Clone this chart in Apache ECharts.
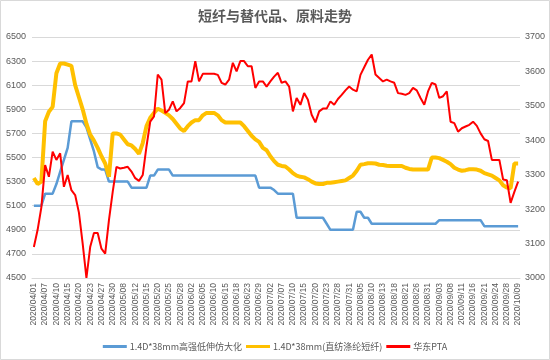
<!DOCTYPE html>
<html><head><meta charset="utf-8">
<script src="https://cdn.jsdelivr.net/npm/echarts@6/dist/echarts.min.js"></script>
<style>html,body{margin:0;padding:0;background:#fff}#c{width:550px;height:360px}</style>
</head><body><div id="c"></div><script>
var dates = [
'2020/04/01','2020/04/02','2020/04/03','2020/04/07','2020/04/08','2020/04/09','2020/04/10','2020/04/13','2020/04/14','2020/04/15',
'2020/04/16','2020/04/17','2020/04/20','2020/04/21','2020/04/22','2020/04/23','2020/04/24','2020/04/26','2020/04/27','2020/04/28',
'2020/04/29','2020/04/30','2020/05/06','2020/05/07','2020/05/08','2020/05/09','2020/05/11','2020/05/12','2020/05/13','2020/05/14',
'2020/05/15','2020/05/18','2020/05/19','2020/05/20','2020/05/21','2020/05/22','2020/05/25','2020/05/26','2020/05/27','2020/05/28',
'2020/05/29','2020/06/01','2020/06/02','2020/06/03','2020/06/04','2020/06/05','2020/06/08','2020/06/09','2020/06/10','2020/06/11',
'2020/06/12','2020/06/15','2020/06/16','2020/06/17','2020/06/18','2020/06/19','2020/06/22','2020/06/23','2020/06/24','2020/06/28',
'2020/06/29','2020/06/30','2020/07/01','2020/07/02','2020/07/03','2020/07/06','2020/07/07','2020/07/08','2020/07/09','2020/07/10',
'2020/07/13','2020/07/14','2020/07/15','2020/07/16','2020/07/17','2020/07/20','2020/07/21','2020/07/22','2020/07/23','2020/07/24',
'2020/07/27','2020/07/28','2020/07/29','2020/07/30','2020/07/31','2020/08/03','2020/08/04','2020/08/05','2020/08/06','2020/08/07',
'2020/08/10','2020/08/11','2020/08/12','2020/08/13','2020/08/14','2020/08/17','2020/08/18','2020/08/19','2020/08/20','2020/08/21',
'2020/08/24','2020/08/25','2020/08/26','2020/08/27','2020/08/28','2020/08/31','2020/09/01','2020/09/02','2020/09/03','2020/09/04',
'2020/09/07','2020/09/08','2020/09/09','2020/09/10','2020/09/11','2020/09/14','2020/09/15','2020/09/16','2020/09/17','2020/09/18',
'2020/09/21','2020/09/22','2020/09/23','2020/09/24','2020/09/25','2020/09/27','2020/09/28','2020/09/29','2020/09/30','2020/10/09'
];
var seriesNames = ['1.4D*38mm高强低伸仿大化', '1.4D*38mm(直纺涤纶短纤)', '华东PTA'];
var blueVals = [
5100,5100,5100,5200,5200,5200,5280,5380,5480,5580,
5800,5800,5800,5800,5750,5650,5550,5420,5400,5400,
5300,5300,5300,5300,5300,5300,5250,5250,5250,5250,
5250,5350,5350,5400,5400,5400,5400,5350,5350,5350,
5350,5350,5350,5350,5350,5350,5350,5350,5350,5350,
5350,5350,5350,5350,5350,5350,5350,5350,5350,5350,
5250,5250,5250,5250,5230,5200,5200,5200,5200,5200,
5000,5000,5000,5000,5000,5000,5000,5000,4950,4900,
4900,4900,4900,4900,4900,4900,5050,5050,5000,5000,
4950,4950,4950,4950,4950,4950,4950,4950,4950,4950,
4950,4950,4950,4950,4950,4950,4950,4950,4980,4980,
4980,4980,4980,4980,4980,4980,4980,4980,4980,4980,
4930,4930,4930,4930,4930,4930,4930,4930,4930,4930
];
var yellowVals = [
5330,5280,5300,5800,5880,5920,6200,6280,6280,6270,
6260,6100,6000,5900,5780,5690,5640,5580,5510,5450,
5340,5700,5700,5690,5650,5610,5600,5570,5530,5620,
5760,5830,5870,5905,5890,5870,5850,5820,5780,5740,
5720,5760,5790,5810,5810,5850,5870,5870,5870,5850,
5810,5790,5790,5790,5790,5790,5760,5720,5680,5650,
5630,5580,5560,5510,5470,5440,5430,5425,5400,5370,
5350,5340,5335,5320,5300,5285,5280,5280,5290,5290,
5295,5300,5305,5310,5330,5350,5390,5440,5445,5452,
5452,5450,5440,5438,5432,5430,5430,5430,5430,5415,
5405,5400,5400,5400,5400,5400,5500,5500,5495,5480,
5465,5445,5415,5400,5390,5395,5402,5402,5400,5390,
5370,5360,5350,5330,5310,5270,5250,5245,5450,5450
];
var redVals = [
3090,3140,3206,3328,3294,3367,3343,3362,3265,3299,
3255,3241,3190,3100,3000,3090,3131,3131,3085,3071,
3168,3250,3323,3318,3320,3323,3309,3290,3282,3299,
3382,3454,3469,3591,3576,3479,3489,3513,3484,3494,
3508,3571,3571,3630,3571,3593,3593,3593,3593,3590,
3567,3562,3576,3625,3600,3630,3630,3615,3615,3552,
3571,3571,3556,3571,3585,3596,3567,3571,3556,3484,
3523,3503,3537,3518,3474,3452,3484,3492,3492,3513,
3503,3520,3532,3545,3556,3547,3542,3590,3612,3634,
3649,3591,3581,3571,3576,3571,3567,3537,3535,3532,
3537,3552,3545,3523,3503,3542,3567,3562,3523,3528,
3542,3454,3450,3425,3435,3440,3445,3454,3442,3420,
3403,3398,3343,3343,3343,3286,3284,3218,3250,3280
];
var leftAxis = {min: 4500, max: 6500, step: 200};
var rightAxis = {min: 3000, max: 3700, step: 100};

var font = 'Liberation Sans, Arial, "Noto Sans CJK SC", sans-serif';
var cjk = '"Noto Sans CJK SC", "Liberation Sans", sans-serif';
var plain = function (v) { return String(v); };
var chart = echarts.init(document.getElementById('c'), null, {renderer: 'canvas'});
chart.setOption({
  animation: false,
  backgroundColor: '#fff',
  title: {
    text: '短纤与替代品、原料走势', left: 'center', top: 4,
    textStyle: {fontFamily: cjk, fontSize: 14, fontWeight: 'bold', color: '#595959'}
  },
  graphic: [{type: 'rect', shape: {x: 0.5, y: 0.5, width: 549, height: 359},
    style: {fill: 'none', stroke: '#D9D9D9', lineWidth: 1}, silent: true}],
  legend: {
    data: seriesNames, left: 'center', top: 337, icon: 'rect',
    itemWidth: 24, itemHeight: 3, itemGap: 4,
    textStyle: {fontFamily: cjk, fontSize: 9, color: '#595959', padding: [0,0,0,-2]}
  },
  grid: {left: 32, right: 30, top: 37, bottom: 82, containLabel: false},
  xAxis: {
    type: 'category', data: dates, boundaryGap: true,
    axisLine: {show: true, lineStyle: {color: '#D9D9D9'}},
    axisTick: {show: false},
    axisLabel: {interval: 2, rotate: 90, fontSize: 8.5, color: '#595959', margin: 5, fontFamily: font}
  },
  yAxis: [{
    type: 'value', min: leftAxis.min, max: leftAxis.max, interval: leftAxis.step,
    axisLine: {show: false}, axisTick: {show: false},
    splitLine: {lineStyle: {color: '#D9D9D9', width: 1}},
    axisLabel: {fontSize: 9, color: '#595959', margin: 6, fontFamily: font, formatter: plain}
  }, {
    type: 'value', min: rightAxis.min, max: rightAxis.max, interval: rightAxis.step,
    axisLine: {show: false}, axisTick: {show: false}, splitLine: {show: false},
    axisLabel: {fontSize: 9, color: '#595959', margin: 5, fontFamily: font, formatter: plain}
  }],
  series: [
    {name: seriesNames[0], type: 'line', yAxisIndex: 0, data: blueVals, showSymbol: false,
      itemStyle: {color: '#5B9BD5'}, lineStyle: {color: '#5B9BD5', width: 2.5}},
    {name: seriesNames[1], type: 'line', yAxisIndex: 0, data: yellowVals, showSymbol: false,
      itemStyle: {color: '#FFC000'}, lineStyle: {color: '#FFC000', width: 4}},
    {name: seriesNames[2], type: 'line', yAxisIndex: 1, data: redVals, showSymbol: false,
      itemStyle: {color: '#FF0000'}, lineStyle: {color: '#FF0000', width: 2}}
  ]
});
</script></body></html>
